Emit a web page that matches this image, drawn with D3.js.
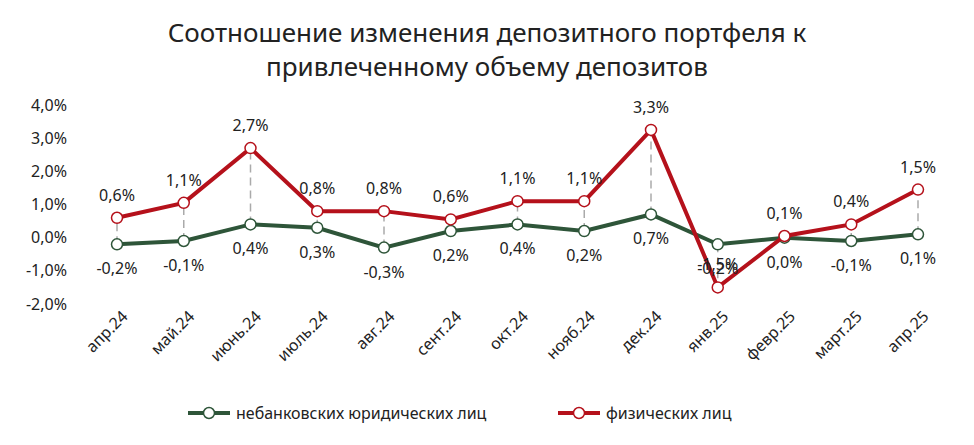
<!DOCTYPE html>
<html><head><meta charset="utf-8">
<script src="https://cdn.jsdelivr.net/npm/d3@7"></script>
<style>body{margin:0;background:#fff;font-family:"Noto Sans",Lato,sans-serif;}</style>
</head><body><svg id="c" width="974" height="445"></svg>
<script>
const categories=["апр.24","май.24","июнь.24","июль.24","авг.24","сент.24","окт.24","нояб.24","дек.24","янв.25","февр.25","март.25","апр.25"];
const legalValues=[-0.2,-0.1,0.4,0.3,-0.3,0.2,0.4,0.2,0.7,-0.2,0.0,-0.1,0.1];
const personValues=[0.6,1.05,2.7,0.8,0.8,0.55,1.1,1.1,3.25,-1.5,0.05,0.4,1.45];
const personLabels=["0,6%","1,1%","2,7%","0,8%","0,8%","0,6%","1,1%","1,1%","3,3%","-1,5%","0,1%","0,4%","1,5%"];
const legalLabels=["-0,2%","-0,1%","0,4%","0,3%","-0,3%","0,2%","0,4%","0,2%","0,7%","-0,2%","0,0%","-0,1%","0,1%"];
const yTicks=[-2,-1,0,1,2,3,4];
const svg=d3.select("#c");
const x=d3.scalePoint().domain(categories).range([117,918]);
const y=d3.scaleLinear().domain([-2,4]).range([304,105]);
const fmt=v=>v.toFixed(1).replace(".",",")+"%";
svg.append("text").attr("x",487).attr("y",42).attr("text-anchor","middle").attr("font-size",26).attr("fill","#222").text("Соотношение изменения депозитного портфеля к");
svg.append("text").attr("x",487).attr("y",76).attr("text-anchor","middle").attr("font-size",26).attr("fill","#222").text("привлеченному объему депозитов");
const ya=svg.append("g").attr("transform","translate(70,0)").call(d3.axisLeft(y).tickValues(yTicks).tickFormat(fmt).tickSize(0));
ya.select(".domain").remove();
ya.selectAll("text").attr("font-size",16).attr("fill","#222").attr("font-family","Noto Sans");
const xa=svg.append("g").attr("transform","translate(0,304)").call(d3.axisBottom(x).tickSize(0));
xa.select(".domain").remove();
xa.selectAll("text").attr("font-size",16).attr("fill","#222").attr("font-family","Noto Sans").attr("text-anchor","end").attr("transform","rotate(-45)").attr("dx","-0.1em").attr("dy","0.9em");
// drop lines
svg.append("g").selectAll("line").data(categories).join("line")
 .attr("x1",d=>x(d)).attr("x2",d=>x(d)).attr("y1",(d,i)=>y(legalValues[i])).attr("y2",(d,i)=>y(personValues[i]))
 .attr("stroke","#aaa").attr("stroke-width",1.5).attr("stroke-dasharray","8,5");
function series(vals,color){
 svg.append("path").datum(vals).attr("fill","none").attr("stroke",color).attr("stroke-width",4)
  .attr("d",d3.line().x((d,i)=>x(categories[i])).y(d=>y(d)));
 svg.append("g").selectAll("circle").data(vals).join("circle").attr("cx",(d,i)=>x(categories[i])).attr("cy",d=>y(d)).attr("r",5.5)
  .attr("fill","#fff").attr("stroke",color).attr("stroke-width",1.5);
}
series(legalValues,"#2e5539");
series(personValues,"#b5111b");
svg.append("g").selectAll("text").data(personLabels).join("text").attr("x",(d,i)=>x(categories[i])).attr("y",(d,i)=>y(personValues[i])-17)
 .attr("text-anchor","middle").attr("font-size",16).attr("fill","#222").text(d=>d);
svg.append("g").selectAll("text").data(legalLabels).join("text").attr("x",(d,i)=>x(categories[i])).attr("y",(d,i)=>y(legalValues[i])+30)
 .attr("text-anchor","middle").attr("font-size",16).attr("fill","#222").text(d=>d);
// legend
const lg=[["небанковских юридических лиц","#2e5539",188],["физических лиц","#b5111b",558]];
lg.forEach(([t,c,lx])=>{
 svg.append("line").attr("x1",lx).attr("x2",lx+42).attr("y1",413).attr("y2",413).attr("stroke",c).attr("stroke-width",4);
 svg.append("circle").attr("cx",lx+21).attr("cy",413).attr("r",5.5).attr("fill","#fff").attr("stroke",c).attr("stroke-width",1.5);
 svg.append("text").attr("x",lx+48).attr("y",419).attr("font-size",16).attr("fill","#222").text(t);
});
</script></body></html>
